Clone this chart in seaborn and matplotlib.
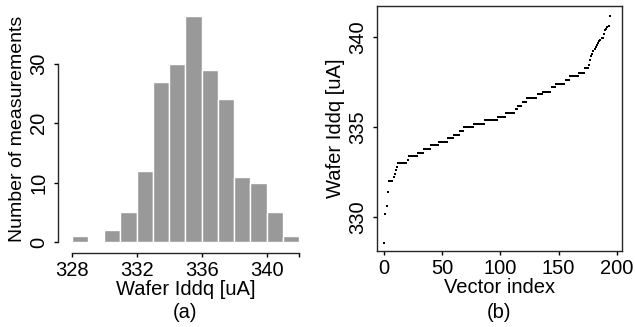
import numpy as np
import pandas as pd
import matplotlib
matplotlib.use("Agg")
import matplotlib.pyplot as plt
import seaborn as sns

# measured Iddq levels (sorted) and how many vectors sit on each level
iddq_levels = [328.53, 330.17, 330.62, 331.37, 331.98,
               332.20, 332.38, 332.59, 332.77, 332.98,
               333.18, 333.40, 333.57, 333.77, 333.98,
               334.19, 334.39, 334.58, 334.78, 334.98,
               335.19, 335.41, 335.58, 335.78, 335.98,
               336.17, 336.39, 336.64, 336.82, 336.98,
               337.21, 337.42, 337.62, 337.83,
               338.03, 338.29, 338.48, 338.72, 338.96,
               339.10, 339.22, 339.37, 339.48, 339.60, 339.70, 339.80, 339.88, 339.95, 339.98,
               340.21, 340.39, 340.46, 340.60, 340.66,
               341.19]
level_counts = [1, 1, 1, 1, 4,
                1, 1, 1, 1, 8,
                1, 8, 5, 6, 7,
                8, 5, 5, 4, 8,
                10, 11, 7, 8, 2,
                4, 4, 9, 5, 7,
                4, 8, 4, 8,
                5, 3, 1, 1, 1,
                1, 1, 1, 1, 1, 1, 1, 1, 1, 1,
                1, 1, 1, 1, 1,
                1]
hist_bins = [328, 329, 330, 331, 332, 333, 334, 335, 336, 337, 338, 339, 340, 341, 342]

hist_xticks = [328, 332, 336, 340, 342]
hist_xticklabels = ["328", "332", "336", "340", ""]
hist_yticks = [0, 10, 20, 30]
scatter_xticks = [0, 50, 100, 150, 200]
scatter_yticks = [330, 335, 340]

iddq = np.repeat(iddq_levels, level_counts)
df = pd.DataFrame({"vector_index": np.arange(len(iddq)), "iddq": iddq})

sns.set_theme(style="ticks")
plt.rcParams["font.family"] = ["Liberation Sans", "DejaVu Sans"]
plt.rcParams["font.size"] = 14.5
plt.rcParams["axes.linewidth"] = 1.0
plt.rcParams["xtick.major.size"] = 3
plt.rcParams["ytick.major.size"] = 3
plt.rcParams["xtick.major.width"] = 1.0
plt.rcParams["ytick.major.width"] = 1.0
plt.rcParams["xtick.color"] = "black"
plt.rcParams["ytick.color"] = "black"
plt.rcParams["text.color"] = "black"
plt.rcParams["axes.labelcolor"] = "black"

fig = plt.figure(figsize=(6.35, 3.27), dpi=100)

# (a) histogram
ax1 = fig.add_axes([0.1129, 0.26, 0.358, 0.690])
sns.histplot(data=df, x="iddq", bins=hist_bins, color="#999999", edgecolor="white",
             linewidth=1.0, alpha=1.0, ax=ax1)
ax1.set_xlim(328, 342)
ax1.set_ylim(0, 38)
ax1.spines["top"].set_visible(False)
ax1.spines["right"].set_visible(False)
ax1.spines["left"].set_position(("outward", 10))
ax1.spines["bottom"].set_position(("outward", 8))
ax1.spines["left"].set_bounds(0, 30)
ax1.spines["bottom"].set_bounds(328, 342)
ax1.set_xticks(hist_xticks)
ax1.set_xticklabels(hist_xticklabels, fontsize=14.5)
ax1.set_yticks(hist_yticks)
ax1.set_yticklabels([str(t) for t in hist_yticks], rotation=90, va="center", fontsize=14.5)
ax1.tick_params(axis="x", pad=3)
ax1.tick_params(axis="y", pad=4)
ax1.set_xlabel("Wafer Iddq [uA]", fontsize=14.5, labelpad=0)
ax1.set_ylabel("Number of measurements", fontsize=14, labelpad=2)
fig.text(185 / 635, 1 - 313 / 327, "(a)", ha="center", va="center", fontsize=14.5)

# (b) sorted Iddq per vector
ax2 = fig.add_axes([0.5932, 0.2324, 0.3858, 0.749])
sns.scatterplot(data=df, x="vector_index", y="iddq", marker="s", s=4, color="black",
                linewidth=0, ax=ax2)
ax2.set_xlim(-6.54, 204.3)
ax2.set_ylim(328.09, 341.745)
ax2.set_xticks(scatter_xticks)
ax2.set_yticks(scatter_yticks)
ax2.set_yticklabels([str(t) for t in scatter_yticks], rotation=90, va="center", fontsize=14.5)
ax2.tick_params(axis="x", labelsize=14.5, pad=3)
ax2.tick_params(axis="y", pad=4)
ax2.set_xlabel("Vector index", fontsize=14.5, labelpad=0)
ax2.set_ylabel("Wafer Iddq [uA]", fontsize=14.5, labelpad=2)
fig.text(499 / 635, 1 - 313 / 327, "(b)", ha="center", va="center", fontsize=14.5)

fig.savefig("out.png", dpi=100)
